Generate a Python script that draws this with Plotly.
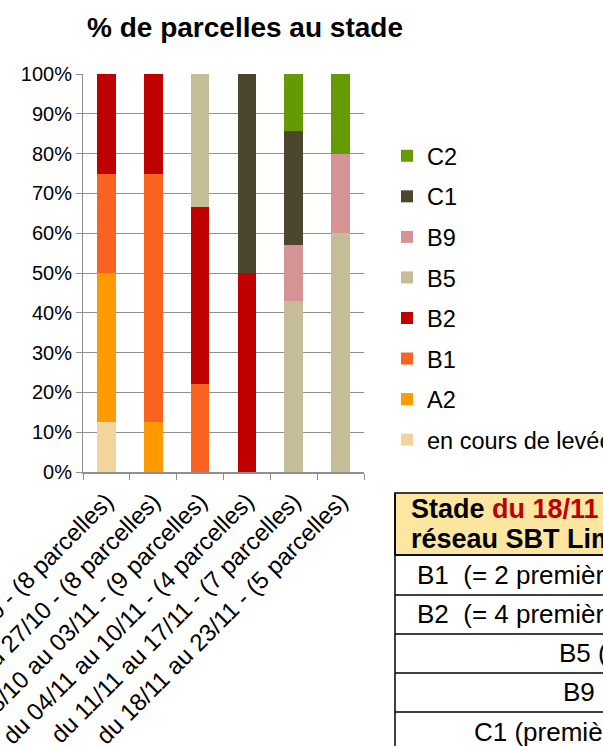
import plotly.graph_objects as go

categories = [
    "du 14/10 au 20/10 - (8 parcelles)",
    "du 21/10 au 27/10 - (8 parcelles)",
    "du 28/10 au 03/11 - (9 parcelles)",
    "du 04/11 au 10/11 - (4 parcelles)",
    "du 11/11 au 17/11 - (7 parcelles)",
    "du 18/11 au 23/11 - (5 parcelles)",
]
stages = ["en cours de levée", "A2", "B1", "B2", "B5", "B9", "C1", "C2"]
en_cours = [0.125, 0, 0, 0, 0, 0]
a2 = [0.375, 0.125, 0, 0, 0, 0]
b1 = [0.25, 0.625, 0.2222, 0, 0, 0]
b2 = [0.25, 0.25, 0.4444, 0.5, 0, 0]
b5 = [0, 0, 0.3334, 0, 0.4286, 0.6]
b9 = [0, 0, 0, 0, 0.1428, 0.2]
c1 = [0, 0, 0, 0.5, 0.2857, 0]
c2 = [0, 0, 0, 0, 0.1429, 0.2]
series = [en_cours, a2, b1, b2, b5, b9, c1, c2]
colors = ["#F2D59A", "#FF9A00", "#FA6220", "#C00000", "#C5BD98", "#D49394", "#4D462E", "#669A05"]

table_header_1 = "Stade"
table_header_1b = "du 18/11 au 23/11 dans le"
table_header_2 = "réseau SBT Limousin"
table_rows = [
    "B1&nbsp; (= 2 premières feuilles)",
    "B2&nbsp; (= 4 premières feuilles)",
    "B5 (= 10 feuilles)",
    "B9",
    "C1 (première feuille jaunie)",
]

FONT = "Liberation Sans, Arial, sans-serif"
W, H = 603, 746
L, R, T, B = 83, 364, 74, 472


def px(x):
    return (x - L) / (R - L)


def py(y):
    return (B - y) / (B - T)


fig = go.Figure()
n = len(stages)
for i, (name, vals, col) in enumerate(zip(stages, series, colors)):
    fig.add_trace(go.Bar(
        x=categories, y=vals, name=name,
        marker=dict(color=col, line=dict(width=0)),
        legendgroup=name, legendrank=n - i,
    ))

shapes = []
annotations = []

# table
row_lines = [555, 595, 634, 673, 712]
shapes.append(dict(type="rect", xref="paper", yref="paper",
                   x0=px(395), x1=px(640), y0=py(493), y1=py(555),
                   fillcolor="#FDE6A0", line=dict(color="black", width=1.5), layer="above"))
shapes.append(dict(type="line", xref="paper", yref="paper",
                   x0=px(395), x1=px(395), y0=py(493), y1=py(760),
                   line=dict(color="black", width=1.5)))
for yl in row_lines:
    shapes.append(dict(type="line", xref="paper", yref="paper",
                       x0=px(395), x1=px(640), y0=py(yl), y1=py(yl),
                       line=dict(color="black", width=1.5)))

annotations.append(dict(
    xref="paper", yref="paper", x=px(409), y=py(509), xanchor="left", yanchor="middle",
    align="left", showarrow=False,
    text=f"<b>{table_header_1} <span style='color:#C00000'>{table_header_1b}</span></b>",
    font=dict(family=FONT, size=27, color="black"),
))
annotations.append(dict(
    xref="paper", yref="paper", x=px(409), y=py(539), xanchor="left", yanchor="middle",
    align="left", showarrow=False,
    text=f"<b>{table_header_2}</b>",
    font=dict(family=FONT, size=27, color="black"),
))
row_x = [415, 415, 557, 561, 472]
row_y = [575, 614, 653, 692, 732]
for t, xx, yy in zip(table_rows, row_x, row_y):
    annotations.append(dict(
        xref="paper", yref="paper", x=px(xx), y=py(yy), xanchor="left", yanchor="middle",
        showarrow=False, text=t, font=dict(family=FONT, size=26, color="black"),
    ))

fig.update_layout(
    width=W, height=H,
    margin=dict(l=L, r=W - R, t=T, b=H - B, autoexpand=False),
    paper_bgcolor="white", plot_bgcolor="white",
    barmode="stack", bargap=0.6,
    font=dict(family=FONT, size=20, color="black"),
    title=dict(text="<b>% de parcelles au stade</b>", x=px(245), xref="paper", xanchor="center",
               y=1 - 27 / H, yanchor="middle", font=dict(family=FONT, size=28, color="black")),
    showlegend=True,
    legend=dict(traceorder="grouped", tracegroupgap=7,
                x=px(387), y=py(134), xanchor="left", yanchor="top",
                font=dict(family=FONT, size=23.5, color="black"),
                bgcolor="rgba(0,0,0,0)"),
    shapes=shapes, annotations=annotations,
)
fig.update_yaxes(range=[0, 1], dtick=0.1, tickformat=".0%", showgrid=True,
                 gridcolor="#8F8F8F", gridwidth=1, showline=True, linecolor="#8F8F8F",
                 linewidth=1, ticks="outside", ticklen=6, tickcolor="#8F8F8F",
                 tickfont=dict(family=FONT, size=20, color="black"), automargin=False)
fig.update_xaxes(tickangle=-45, tickson="boundaries", ticks="outside", ticklen=6,
                 tickcolor="#8F8F8F", showline=True, linecolor="#8F8F8F", linewidth=1.5,
                 ticklabelstandoff=4,
                 tickfont=dict(family=FONT, size=24, color="black"), automargin=False)

fig.write_html("out.html", post_script="document.body.style.margin='0';",
               config={"displayModeBar": False})
